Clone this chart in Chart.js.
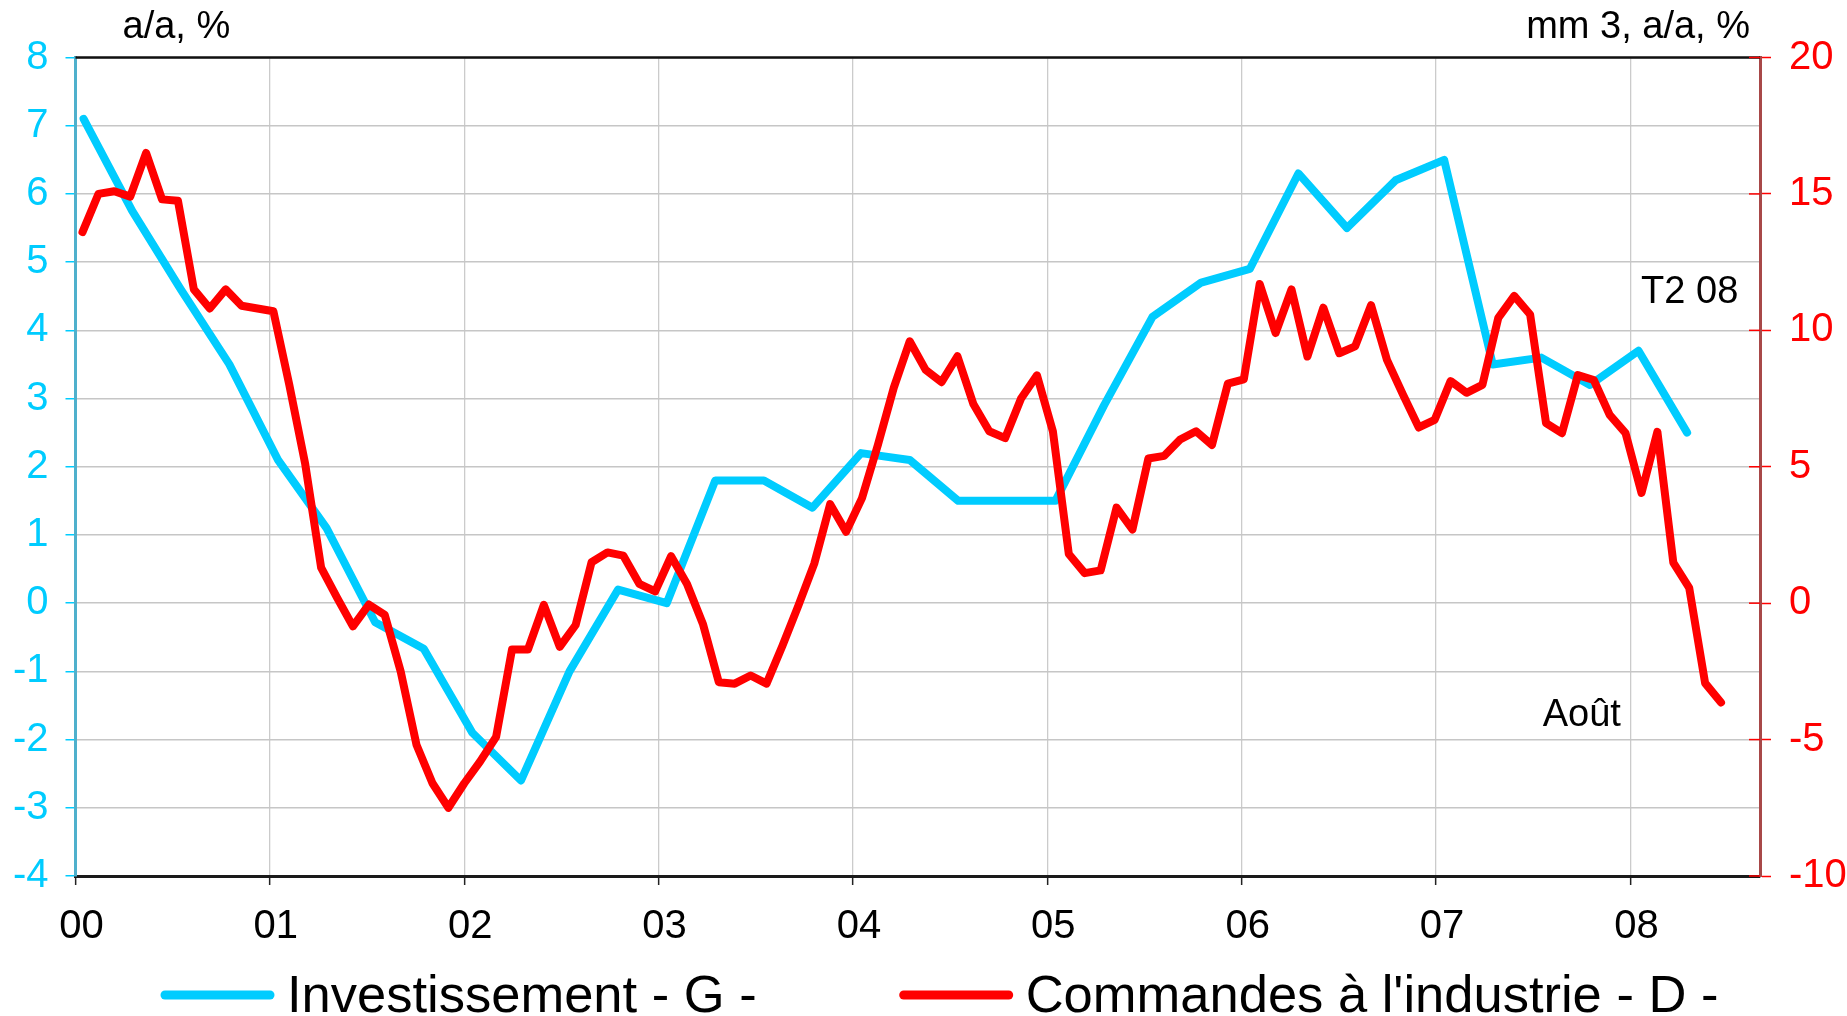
<!DOCTYPE html>
<html>
<head>
<meta charset="utf-8">
<script src="https://cdn.jsdelivr.net/npm/chart.js@4.4.1/dist/chart.umd.min.js"></script>
<style>
  html, body { margin: 0; padding: 0; background: #ffffff; }
  #wrap { width: 1847px; height: 1016px; position: relative; }
  canvas { display: block; }
</style>
</head>
<body>
<div id="wrap"><canvas id="c" width="1847" height="1016"></canvas></div>
<script>
// ---------------- DATA ----------------
const yearLabels = ['00', '01', '02', '03', '04', '05', '06', '07', '08'];

const leftUnit = 'a/a, %';
const rightUnit = 'mm 3, a/a, %';
const noteQuarter = 'T2 08';
const noteMonth = 'Août';

const seriesNames = ['Investissement - G -', "Commandes à l'industrie - D -"];

// Quarterly investment, Q1 2000 .. Q2 2008 (left axis)
const quarterLabels = [
  'T1 00','T2 00','T3 00','T4 00','T1 01','T2 01','T3 01','T4 01',
  'T1 02','T2 02','T3 02','T4 02','T1 03','T2 03','T3 03','T4 03',
  'T1 04','T2 04','T3 04','T4 04','T1 05','T2 05','T3 05','T4 05',
  'T1 06','T2 06','T3 06','T4 06','T1 07','T2 07','T3 07','T4 07',
  'T1 08','T2 08'
];
const investissement = [
  7.1, 5.75, 4.6, 3.5, 2.1, 1.1, -0.28, -0.67,
  -1.9, -2.6, -1.0, 0.2, 0.0, 1.8, 1.8, 1.4,
  2.2, 2.1, 1.5, 1.5, 1.5, 2.9, 4.2, 4.7,
  4.9, 6.3, 5.5, 6.2, 6.5, 3.5, 3.6, 3.2,
  3.7, 2.5
];

// Monthly industrial orders (3-month moving average, y/y), Jan 2000 .. Aug 2008 (right axis)
const commandes = [
  13.6, 15.0, 15.1, 14.9, 16.5, 14.8, 14.75, 11.5, 10.8, 11.5, 10.9, 10.8,
  10.7, 8.0, 5.1, 1.3, 0.2, -0.85, -0.05, -0.43, -2.5, -5.2, -6.6, -7.5,
  -6.6, -5.8, -4.9, -1.7, -1.7, -0.06, -1.6, -0.8, 1.5, 1.86, 1.74, 0.71,
  0.43, 1.72, 0.7, -0.76, -2.9, -2.95, -2.65, -2.95, -1.56, -0.09, 1.45, 3.63,
  2.62, 3.85, 5.8, 7.9, 9.6, 8.55, 8.1, 9.05, 7.3, 6.3, 6.05, 7.5,
  8.35, 6.3, 1.8, 1.1, 1.2, 3.5, 2.7, 5.3, 5.4, 6.0, 6.3, 5.8,
  8.05, 8.2, 11.7, 9.9, 11.5, 9.04, 10.83, 9.16, 9.41, 10.92, 8.92, 7.65,
  6.44, 6.72, 8.14, 7.71, 8.0, 10.46, 11.26, 10.58, 6.6, 6.23, 8.36, 8.18,
  6.9, 6.23, 4.04, 6.28, 1.49, 0.56, -2.93, -3.64
];

// ---------------- STYLE ----------------
const BLUE = '#00CCFF';
const RED = '#FF0000';
const FONT = '"Liberation Sans", Arial, sans-serif';

// Build library point lists from the arrays
const bluePoints = investissement.map((v, k) => ({ x: k * 3 + 0.5, y: v }));   // month of quarter start
const redPoints = commandes.map((v, i) => ({ x: i, y: v }));                   // secondary category index

const overlay = {
  id: 'overlay',
  afterDraw(chart) {
    const { ctx, chartArea: ca, scales } = chart;
    ctx.save();
    // top frame line
    ctx.strokeStyle = '#111';
    ctx.lineWidth = 2.5;
    ctx.beginPath();
    ctx.moveTo(ca.left, ca.top);
    ctx.lineTo(ca.right, ca.top);
    ctx.stroke();

    // inward part of right-axis tick marks (they cross the axis)
    const y2 = scales.y2;
    ctx.strokeStyle = RED;
    ctx.lineWidth = 1.5;
    y2.ticks.forEach(t => {
      const py = y2.getPixelForValue(t.value);
      ctx.beginPath();
      ctx.moveTo(ca.right - 11, py);
      ctx.lineTo(ca.right, py);
      ctx.stroke();
    });

    // unit labels
    ctx.fillStyle = '#000';
    ctx.font = '38px ' + FONT;
    ctx.textBaseline = 'middle';
    ctx.textAlign = 'left';
    ctx.fillText(leftUnit, ca.left + 47, 28);
    ctx.textAlign = 'right';
    ctx.fillText(rightUnit, ca.right - 10, 28);

    // annotations
    ctx.textAlign = 'center';
    ctx.fillText(noteQuarter, scales.x.getPixelForValue(99.66), scales.y.getPixelForValue(4.55));
    ctx.fillText(noteMonth, scales.x.getPixelForValue(93.0), scales.y2.getPixelForValue(-4.1));

    // legend
    ctx.font = '52.5px ' + FONT;
    ctx.textAlign = 'left';
    ctx.textBaseline = 'alphabetic';
    const colors = [BLUE, RED];
    let x = 161;
    const yLine = 995, yBase = 1012;
    seriesNames.forEach((name, idx) => {
      ctx.strokeStyle = colors[idx];
      ctx.lineWidth = 9;
      ctx.lineCap = 'round';
      ctx.beginPath();
      ctx.moveTo(x + 4, yLine);
      ctx.lineTo(x + 109, yLine);
      ctx.stroke();
      ctx.fillText(name, x + 126, yBase);
      x += 126 + ctx.measureText(name).width + 143;
    });
    ctx.restore();
  }
};

new Chart(document.getElementById('c'), {
  type: 'line',
  data: {
    datasets: [
      {
        label: seriesNames[0],
        data: bluePoints,
        xAxisID: 'x',
        yAxisID: 'y',
        borderColor: BLUE,
        backgroundColor: BLUE,
        borderWidth: 8,
        borderJoinStyle: 'round',
        borderCapStyle: 'round',
        pointRadius: 0,
        tension: 0,
        order: 2
      },
      {
        label: seriesNames[1],
        data: redPoints,
        xAxisID: 'x2',
        yAxisID: 'y2',
        borderColor: RED,
        backgroundColor: RED,
        borderWidth: 8,
        borderJoinStyle: 'round',
        borderCapStyle: 'round',
        pointRadius: 0,
        tension: 0,
        order: 1
      }
    ]
  },
  options: {
    responsive: false,
    animation: false,
    events: [],
    layout: { padding: { top: 57.5, left: 0, right: 0, bottom: 0 } },
    plugins: { legend: { display: false }, tooltip: { enabled: false } },
    scales: {
      x: {
        type: 'linear',
        position: 'bottom',
        min: 0,
        max: 104,
        afterBuildTicks(scale) {
          scale.ticks = yearLabels.map((l, i) => ({ value: i * 12 }));
        },
        afterFit(scale) { scale.height = 140; },
        ticks: {
          autoSkip: false,
          maxRotation: 0,
          color: '#000',
          font: { family: FONT, size: 40 },
          padding: 18,
          labelOffset: 6,
          callback(value) { return yearLabels[Math.round(value / 12)]; }
        },
        grid: { color: '#cbcbcb', lineWidth: 1.3, tickLength: 9, tickColor: '#222', tickWidth: 1.5 },
        border: { color: '#1a1a1a', width: 3 }
      },
      x2: {
        type: 'linear',
        display: false,
        min: -0.44,
        max: 105.45
      },
      y: {
        position: 'left',
        min: -4,
        max: 8,
        afterFit(scale) { scale.width = 75.5; },
        ticks: {
          stepSize: 1,
          color: BLUE,
          font: { family: FONT, size: 40 },
          padding: 17
        },
        grid: { color: '#c6c6c6', lineWidth: 1.5, tickLength: 10, tickColor: BLUE, tickWidth: 1.5 },
        border: { color: '#4fb0cc', width: 3 }
      },
      y2: {
        position: 'right',
        min: -10,
        max: 20,
        afterFit(scale) { scale.width = 87; },
        ticks: {
          stepSize: 5,
          color: RED,
          font: { family: FONT, size: 40 },
          padding: 18
        },
        grid: { drawOnChartArea: false, tickLength: 11, tickColor: RED, tickWidth: 1.5 },
        border: { color: '#a84848', width: 3 }
      }
    }
  },
  plugins: [overlay]
});
</script>
</body>
</html>
